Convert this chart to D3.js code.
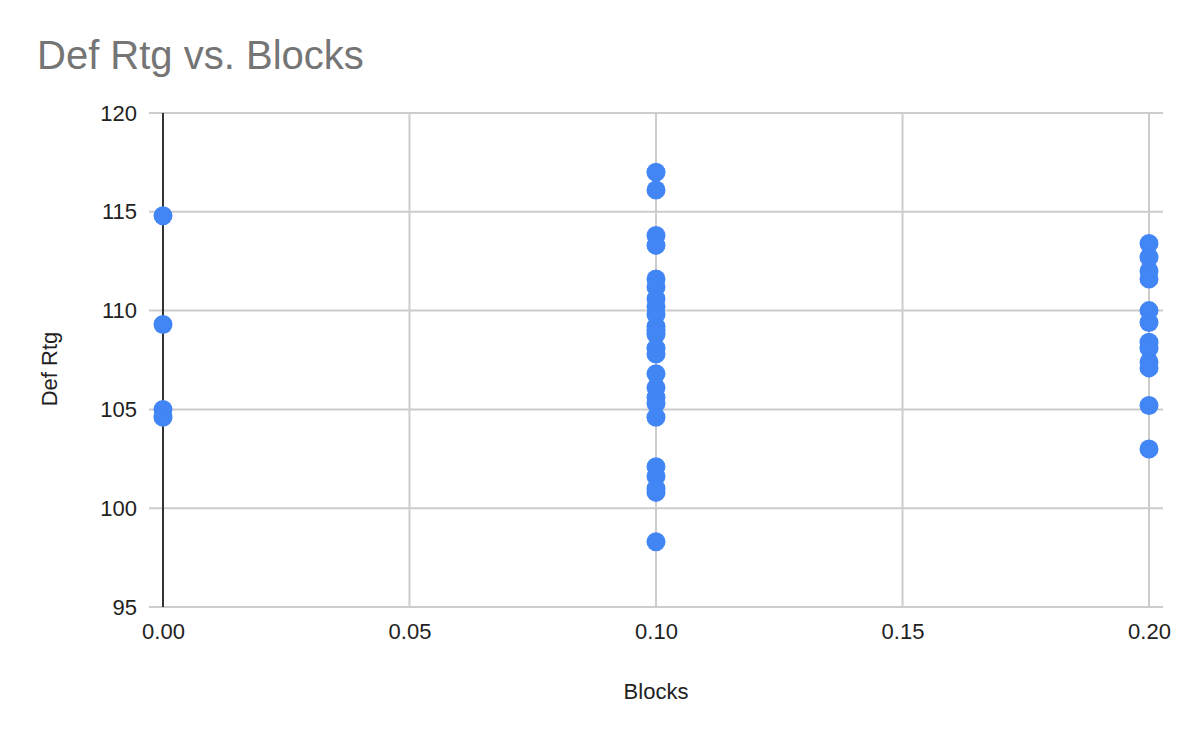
<!DOCTYPE html>
<html>
<head>
<meta charset="utf-8">
<script src="https://cdn.jsdelivr.net/npm/d3@7"></script>
<style>
  body { margin: 0; background: #fff; }
  svg { font-family: "Liberation Sans", Arial, sans-serif; }
</style>
</head>
<body>
<svg width="1200" height="742"></svg>
<script>
// blocks per game for each player, and their defensive rating
var blocks = [
  0, 0, 0, 0,
  0.1, 0.1, 0.1, 0.1, 0.1, 0.1, 0.1, 0.1, 0.1, 0.1, 0.1, 0.1, 0.1, 0.1,
  0.1, 0.1, 0.1, 0.1, 0.1, 0.1, 0.1, 0.1, 0.1, 0.1,
  0.2, 0.2, 0.2, 0.2, 0.2, 0.2, 0.2, 0.2, 0.2, 0.2, 0.2, 0.2
];
var defRtg = [
  114.8, 109.3, 105.0, 104.6,
  117.0, 116.1, 113.8, 113.3, 111.6, 111.2, 110.6, 110.2, 109.8, 109.2,
  108.8, 108.1, 107.8, 106.8, 106.1, 105.6, 105.3, 104.6, 102.1, 101.6, 101.0, 100.8, 98.3, 109.0,
  113.4, 112.7, 112.0, 111.6, 110.0, 109.4, 108.4, 108.1, 107.4, 107.1, 105.2, 103.0
];
var xTicks = [0, 0.05, 0.10, 0.15, 0.20];
var yTicks = [95, 100, 105, 110, 115, 120];

var points = blocks.map(function(b, i) { return { blocks: b, rtg: defRtg[i] }; });

var svg = d3.select("svg");
var x = d3.scaleLinear().domain([0, 0.2]).range([163, 1149]);
var y = d3.scaleLinear().domain([95, 120]).range([607, 113]);

// horizontal gridlines, a bit wider than the plot
svg.append("g")
  .selectAll("line")
  .data(yTicks)
  .enter().append("line")
  .attr("x1", x(0) - 14)
  .attr("x2", x(0.2) + 14)
  .attr("y1", function(d) { return y(d); })
  .attr("y2", function(d) { return y(d); })
  .attr("stroke", "#cccccc")
  .attr("stroke-width", 2);

// vertical gridlines
svg.append("g")
  .selectAll("line")
  .data(xTicks.slice(1))
  .enter().append("line")
  .attr("x1", function(d) { return x(d); })
  .attr("x2", function(d) { return x(d); })
  .attr("y1", y(120))
  .attr("y2", y(95))
  .attr("stroke", "#cccccc")
  .attr("stroke-width", 2);

// zero baseline
svg.append("line")
  .attr("x1", x(0)).attr("x2", x(0))
  .attr("y1", y(120)).attr("y2", y(95))
  .attr("stroke", "#333333")
  .attr("stroke-width", 2);

// y axis, labels only
var yAxis = svg.append("g")
  .attr("transform", "translate(" + (x(0) - 14) + ",0)")
  .call(d3.axisLeft(y).tickValues(yTicks).tickSize(0).tickPadding(12));
yAxis.select(".domain").remove();
yAxis.selectAll("text")
  .attr("font-size", 22)
  .attr("font-family", "Liberation Sans, Arial, sans-serif")
  .attr("fill", "#222222");

// x axis, labels only
var xAxis = svg.append("g")
  .attr("transform", "translate(0," + y(95) + ")")
  .call(d3.axisBottom(x).tickValues(xTicks).tickFormat(d3.format(".2f")).tickSize(0).tickPadding(16));
xAxis.select(".domain").remove();
xAxis.selectAll("text")
  .attr("font-size", 22)
  .attr("font-family", "Liberation Sans, Arial, sans-serif")
  .attr("fill", "#222222");

// points
svg.append("g")
  .selectAll("circle")
  .data(points)
  .enter().append("circle")
  .attr("cx", function(d) { return x(d.blocks); })
  .attr("cy", function(d) { return y(d.rtg); })
  .attr("r", 9.5)
  .attr("fill", "#4285f4");

// title and axis titles
svg.append("text")
  .attr("x", 37)
  .attr("y", 69)
  .attr("font-size", 40)
  .attr("fill", "#757575")
  .text("Def Rtg vs. Blocks");

svg.append("text")
  .attr("x", 656)
  .attr("y", 699)
  .attr("text-anchor", "middle")
  .attr("font-size", 22)
  .attr("fill", "#222222")
  .text("Blocks");

svg.append("text")
  .attr("transform", "translate(57,369) rotate(-90)")
  .attr("text-anchor", "middle")
  .attr("font-size", 22)
  .attr("fill", "#222222")
  .text("Def Rtg");
</script>
</body>
</html>
